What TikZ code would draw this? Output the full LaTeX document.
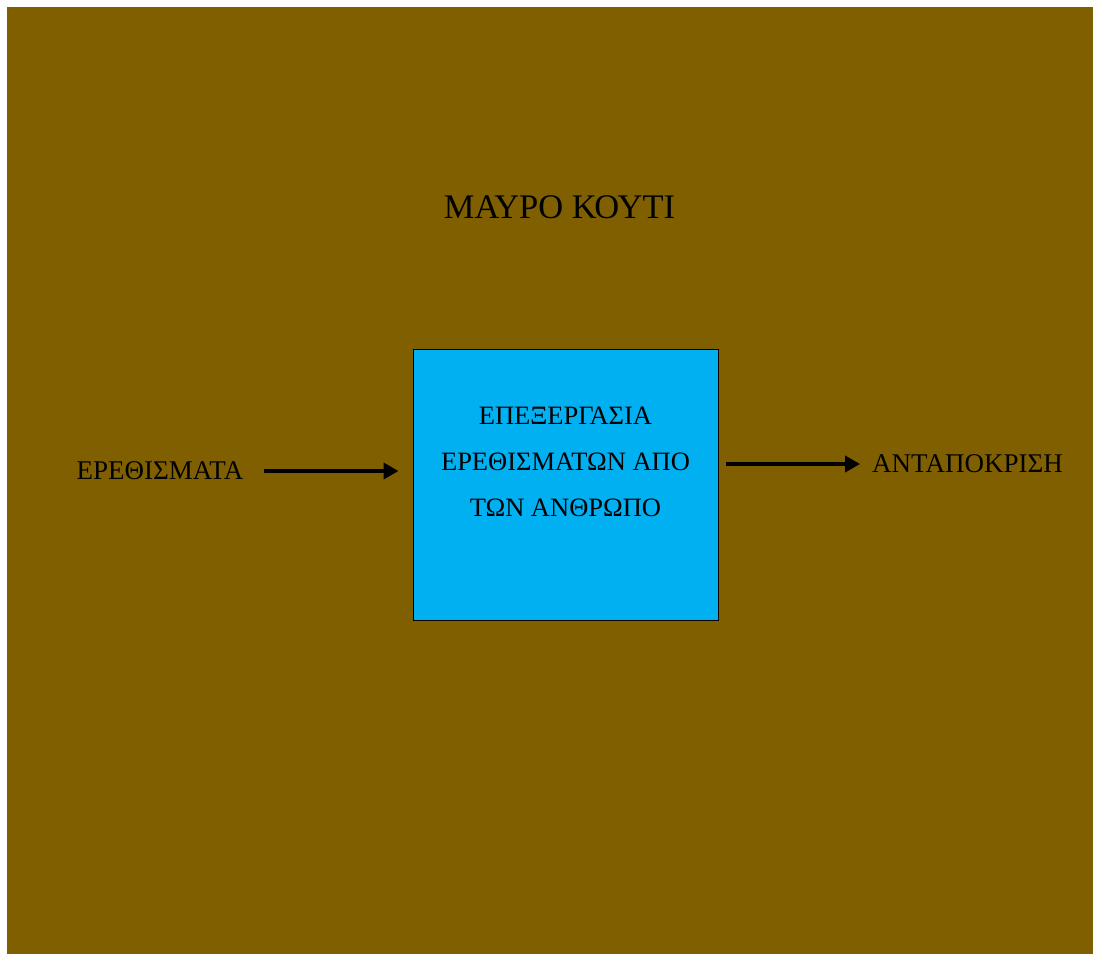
\documentclass[tikz,border=0pt]{standalone}
\usepackage{fontspec}
\setmainfont{Liberation Serif}
\usetikzlibrary{arrows.meta,calc}
\definecolor{boxbrown}{HTML}{7F5F00}
\definecolor{procblue}{HTML}{00B0F0}
\begin{document}
\begin{tikzpicture}[x=1pt,y=-1pt,
  lbl/.style={inner sep=0pt,font=\fontsize{27}{31}\selectfont},
  arr/.style={line width=4pt,-{Triangle[length=15pt,width=16pt]}}]
\useasboundingbox (0,0) rectangle (1093,954);
% background panel
\fill[boxbrown] (7,7) rectangle (1093,954);
% title
\node[lbl,font=\fontsize{34.5}{38}\selectfont] (title) at (559.5,207) {ΜΑΥΡΟ ΚΟΥΤΙ};
% processing block
\node[draw=black,line width=1pt,fill=procblue,minimum width=305pt,minimum height=271pt,inner sep=0pt] (box) at (565.5,484.5) {};
\node[lbl,align=center,font=\fontsize{26.5}{46}\selectfont] (proc) at (565.5,462) {ΕΠΕΞΕΡΓΑΣΙΑ\\ΕΡΕΘΙΣΜΑΤΩΝ ΑΠΟ\\ΤΩΝ ΑΝΘΡΩΠΟ};
% input and output labels
\node[lbl] (in) at (160,471) {ΕΡΕΘΙΣΜΑΤΑ};
\node[lbl] (out) at (967.5,464) {ΑΝΤΑΠΟΚΡΙΣΗ};
% connectors
\draw[arr] ($(in.east)+(21,0)$) -- ($(in.east -| box.west)+(-14,0)$);
\draw[arr] ($(out.west -| box.east)+(7,0)$) -- ($(out.west)+(-12,0)$);
\end{tikzpicture}
\end{document}
